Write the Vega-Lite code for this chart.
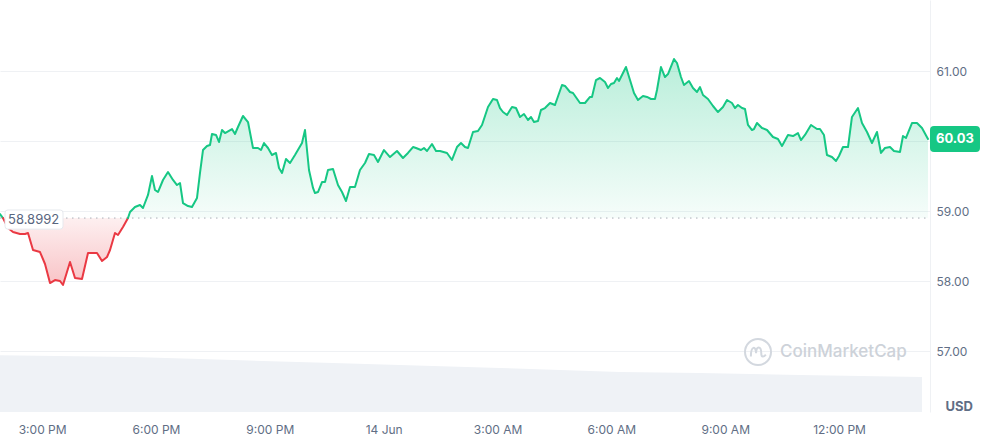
{
  "$schema": "https://vega.github.io/schema/vega-lite/v6.json",
  "width": 930,
  "height": 412,
  "autosize": {"type": "none"},
  "padding": {"left": 0, "top": 0, "right": 55, "bottom": 30},
  "background": "white",
  "config": {"view": {"stroke": null}, "font": "Inter"},
  "datasets": {
    "price": [
      {"h": 13.89, "p": 58.957, "seg": "a", "side": "up"},
      {"h": 13.969, "p": 58.8992, "seg": "a", "side": "up"},
      {"h": 13.969, "p": 58.8992, "seg": "b", "side": "down"},
      {"h": 14.101, "p": 58.757, "seg": "b", "side": "down"},
      {"h": 14.233, "p": 58.7, "seg": "b", "side": "down"},
      {"h": 14.417, "p": 58.671, "seg": "b", "side": "down"},
      {"h": 14.549, "p": 58.671, "seg": "b", "side": "down"},
      {"h": 14.628, "p": 58.686, "seg": "b", "side": "down"},
      {"h": 14.76, "p": 58.443, "seg": "b", "side": "down"},
      {"h": 14.944, "p": 58.414, "seg": "b", "side": "down"},
      {"h": 15.076, "p": 58.243, "seg": "b", "side": "down"},
      {"h": 15.208, "p": 57.971, "seg": "b", "side": "down"},
      {"h": 15.339, "p": 58.014, "seg": "b", "side": "down"},
      {"h": 15.471, "p": 58.0, "seg": "b", "side": "down"},
      {"h": 15.55, "p": 57.943, "seg": "b", "side": "down"},
      {"h": 15.735, "p": 58.271, "seg": "b", "side": "down"},
      {"h": 15.866, "p": 58.043, "seg": "b", "side": "down"},
      {"h": 16.051, "p": 58.029, "seg": "b", "side": "down"},
      {"h": 16.209, "p": 58.4, "seg": "b", "side": "down"},
      {"h": 16.446, "p": 58.4, "seg": "b", "side": "down"},
      {"h": 16.578, "p": 58.286, "seg": "b", "side": "down"},
      {"h": 16.71, "p": 58.343, "seg": "b", "side": "down"},
      {"h": 16.789, "p": 58.443, "seg": "b", "side": "down"},
      {"h": 16.92, "p": 58.686, "seg": "b", "side": "down"},
      {"h": 16.999, "p": 58.657, "seg": "b", "side": "down"},
      {"h": 17.131, "p": 58.771, "seg": "b", "side": "down"},
      {"h": 17.263, "p": 58.8992, "seg": "b", "side": "down"},
      {"h": 17.263, "p": 58.8992, "seg": "c", "side": "up"},
      {"h": 17.316, "p": 58.986, "seg": "c", "side": "up"},
      {"h": 17.447, "p": 59.057, "seg": "c", "side": "up"},
      {"h": 17.579, "p": 59.086, "seg": "c", "side": "up"},
      {"h": 17.658, "p": 59.043, "seg": "c", "side": "up"},
      {"h": 17.79, "p": 59.229, "seg": "c", "side": "up"},
      {"h": 17.895, "p": 59.5, "seg": "c", "side": "up"},
      {"h": 17.974, "p": 59.3, "seg": "c", "side": "up"},
      {"h": 18.053, "p": 59.271, "seg": "c", "side": "up"},
      {"h": 18.185, "p": 59.443, "seg": "c", "side": "up"},
      {"h": 18.317, "p": 59.557, "seg": "c", "side": "up"},
      {"h": 18.449, "p": 59.443, "seg": "c", "side": "up"},
      {"h": 18.554, "p": 59.371, "seg": "c", "side": "up"},
      {"h": 18.633, "p": 59.4, "seg": "c", "side": "up"},
      {"h": 18.712, "p": 59.114, "seg": "c", "side": "up"},
      {"h": 18.844, "p": 59.071, "seg": "c", "side": "up"},
      {"h": 18.949, "p": 59.057, "seg": "c", "side": "up"},
      {"h": 19.081, "p": 59.186, "seg": "c", "side": "up"},
      {"h": 19.16, "p": 59.543, "seg": "c", "side": "up"},
      {"h": 19.239, "p": 59.871, "seg": "c", "side": "up"},
      {"h": 19.345, "p": 59.929, "seg": "c", "side": "up"},
      {"h": 19.424, "p": 59.943, "seg": "c", "side": "up"},
      {"h": 19.476, "p": 60.1, "seg": "c", "side": "up"},
      {"h": 19.582, "p": 60.086, "seg": "c", "side": "up"},
      {"h": 19.661, "p": 59.986, "seg": "c", "side": "up"},
      {"h": 19.74, "p": 60.157, "seg": "c", "side": "up"},
      {"h": 19.819, "p": 60.114, "seg": "c", "side": "up"},
      {"h": 20.003, "p": 60.171, "seg": "c", "side": "up"},
      {"h": 20.082, "p": 60.1, "seg": "c", "side": "up"},
      {"h": 20.161, "p": 60.2, "seg": "c", "side": "up"},
      {"h": 20.293, "p": 60.357, "seg": "c", "side": "up"},
      {"h": 20.425, "p": 60.271, "seg": "c", "side": "up"},
      {"h": 20.557, "p": 59.9, "seg": "c", "side": "up"},
      {"h": 20.688, "p": 59.9, "seg": "c", "side": "up"},
      {"h": 20.767, "p": 59.871, "seg": "c", "side": "up"},
      {"h": 20.846, "p": 59.971, "seg": "c", "side": "up"},
      {"h": 20.952, "p": 59.9, "seg": "c", "side": "up"},
      {"h": 21.057, "p": 59.8, "seg": "c", "side": "up"},
      {"h": 21.163, "p": 59.829, "seg": "c", "side": "up"},
      {"h": 21.242, "p": 59.614, "seg": "c", "side": "up"},
      {"h": 21.321, "p": 59.543, "seg": "c", "side": "up"},
      {"h": 21.426, "p": 59.743, "seg": "c", "side": "up"},
      {"h": 21.532, "p": 59.686, "seg": "c", "side": "up"},
      {"h": 21.663, "p": 59.8, "seg": "c", "side": "up"},
      {"h": 21.848, "p": 59.971, "seg": "c", "side": "up"},
      {"h": 21.927, "p": 60.157, "seg": "c", "side": "up"},
      {"h": 22.032, "p": 59.586, "seg": "c", "side": "up"},
      {"h": 22.138, "p": 59.329, "seg": "c", "side": "up"},
      {"h": 22.19, "p": 59.257, "seg": "c", "side": "up"},
      {"h": 22.269, "p": 59.271, "seg": "c", "side": "up"},
      {"h": 22.375, "p": 59.414, "seg": "c", "side": "up"},
      {"h": 22.454, "p": 59.414, "seg": "c", "side": "up"},
      {"h": 22.533, "p": 59.586, "seg": "c", "side": "up"},
      {"h": 22.665, "p": 59.6, "seg": "c", "side": "up"},
      {"h": 22.796, "p": 59.371, "seg": "c", "side": "up"},
      {"h": 22.902, "p": 59.271, "seg": "c", "side": "up"},
      {"h": 23.007, "p": 59.143, "seg": "c", "side": "up"},
      {"h": 23.113, "p": 59.343, "seg": "c", "side": "up"},
      {"h": 23.244, "p": 59.343, "seg": "c", "side": "up"},
      {"h": 23.376, "p": 59.586, "seg": "c", "side": "up"},
      {"h": 23.508, "p": 59.686, "seg": "c", "side": "up"},
      {"h": 23.613, "p": 59.814, "seg": "c", "side": "up"},
      {"h": 23.745, "p": 59.8, "seg": "c", "side": "up"},
      {"h": 23.85, "p": 59.7, "seg": "c", "side": "up"},
      {"h": 24.008, "p": 59.871, "seg": "c", "side": "up"},
      {"h": 24.167, "p": 59.771, "seg": "c", "side": "up"},
      {"h": 24.351, "p": 59.857, "seg": "c", "side": "up"},
      {"h": 24.509, "p": 59.757, "seg": "c", "side": "up"},
      {"h": 24.641, "p": 59.829, "seg": "c", "side": "up"},
      {"h": 24.773, "p": 59.914, "seg": "c", "side": "up"},
      {"h": 24.852, "p": 59.9, "seg": "c", "side": "up"},
      {"h": 24.983, "p": 59.871, "seg": "c", "side": "up"},
      {"h": 25.062, "p": 59.9, "seg": "c", "side": "up"},
      {"h": 25.142, "p": 59.857, "seg": "c", "side": "up"},
      {"h": 25.273, "p": 59.957, "seg": "c", "side": "up"},
      {"h": 25.379, "p": 59.857, "seg": "c", "side": "up"},
      {"h": 25.484, "p": 59.857, "seg": "c", "side": "up"},
      {"h": 25.669, "p": 59.829, "seg": "c", "side": "up"},
      {"h": 25.8, "p": 59.729, "seg": "c", "side": "up"},
      {"h": 25.932, "p": 59.914, "seg": "c", "side": "up"},
      {"h": 26.037, "p": 59.971, "seg": "c", "side": "up"},
      {"h": 26.143, "p": 59.914, "seg": "c", "side": "up"},
      {"h": 26.222, "p": 59.9, "seg": "c", "side": "up"},
      {"h": 26.354, "p": 60.129, "seg": "c", "side": "up"},
      {"h": 26.485, "p": 60.143, "seg": "c", "side": "up"},
      {"h": 26.591, "p": 60.229, "seg": "c", "side": "up"},
      {"h": 26.749, "p": 60.486, "seg": "c", "side": "up"},
      {"h": 26.881, "p": 60.6, "seg": "c", "side": "up"},
      {"h": 26.986, "p": 60.586, "seg": "c", "side": "up"},
      {"h": 27.065, "p": 60.471, "seg": "c", "side": "up"},
      {"h": 27.144, "p": 60.414, "seg": "c", "side": "up"},
      {"h": 27.25, "p": 60.371, "seg": "c", "side": "up"},
      {"h": 27.381, "p": 60.486, "seg": "c", "side": "up"},
      {"h": 27.487, "p": 60.471, "seg": "c", "side": "up"},
      {"h": 27.592, "p": 60.343, "seg": "c", "side": "up"},
      {"h": 27.697, "p": 60.386, "seg": "c", "side": "up"},
      {"h": 27.803, "p": 60.3, "seg": "c", "side": "up"},
      {"h": 27.882, "p": 60.343, "seg": "c", "side": "up"},
      {"h": 27.961, "p": 60.271, "seg": "c", "side": "up"},
      {"h": 28.066, "p": 60.286, "seg": "c", "side": "up"},
      {"h": 28.145, "p": 60.443, "seg": "c", "side": "up"},
      {"h": 28.251, "p": 60.471, "seg": "c", "side": "up"},
      {"h": 28.383, "p": 60.543, "seg": "c", "side": "up"},
      {"h": 28.514, "p": 60.514, "seg": "c", "side": "up"},
      {"h": 28.699, "p": 60.8, "seg": "c", "side": "up"},
      {"h": 28.778, "p": 60.786, "seg": "c", "side": "up"},
      {"h": 28.91, "p": 60.7, "seg": "c", "side": "up"},
      {"h": 28.989, "p": 60.686, "seg": "c", "side": "up"},
      {"h": 29.173, "p": 60.543, "seg": "c", "side": "up"},
      {"h": 29.305, "p": 60.543, "seg": "c", "side": "up"},
      {"h": 29.437, "p": 60.629, "seg": "c", "side": "up"},
      {"h": 29.489, "p": 60.629, "seg": "c", "side": "up"},
      {"h": 29.595, "p": 60.871, "seg": "c", "side": "up"},
      {"h": 29.7, "p": 60.9, "seg": "c", "side": "up"},
      {"h": 29.832, "p": 60.843, "seg": "c", "side": "up"},
      {"h": 29.911, "p": 60.757, "seg": "c", "side": "up"},
      {"h": 29.99, "p": 60.814, "seg": "c", "side": "up"},
      {"h": 30.069, "p": 60.829, "seg": "c", "side": "up"},
      {"h": 30.148, "p": 60.9, "seg": "c", "side": "up"},
      {"h": 30.201, "p": 60.857, "seg": "c", "side": "up"},
      {"h": 30.385, "p": 61.057, "seg": "c", "side": "up"},
      {"h": 30.491, "p": 60.871, "seg": "c", "side": "up"},
      {"h": 30.596, "p": 60.686, "seg": "c", "side": "up"},
      {"h": 30.701, "p": 60.586, "seg": "c", "side": "up"},
      {"h": 30.833, "p": 60.643, "seg": "c", "side": "up"},
      {"h": 30.939, "p": 60.629, "seg": "c", "side": "up"},
      {"h": 31.044, "p": 60.6, "seg": "c", "side": "up"},
      {"h": 31.149, "p": 60.6, "seg": "c", "side": "up"},
      {"h": 31.202, "p": 60.729, "seg": "c", "side": "up"},
      {"h": 31.307, "p": 61.057, "seg": "c", "side": "up"},
      {"h": 31.413, "p": 60.914, "seg": "c", "side": "up"},
      {"h": 31.492, "p": 60.957, "seg": "c", "side": "up"},
      {"h": 31.65, "p": 61.171, "seg": "c", "side": "up"},
      {"h": 31.729, "p": 61.114, "seg": "c", "side": "up"},
      {"h": 31.834, "p": 60.914, "seg": "c", "side": "up"},
      {"h": 31.913, "p": 60.8, "seg": "c", "side": "up"},
      {"h": 32.045, "p": 60.857, "seg": "c", "side": "up"},
      {"h": 32.151, "p": 60.757, "seg": "c", "side": "up"},
      {"h": 32.256, "p": 60.7, "seg": "c", "side": "up"},
      {"h": 32.335, "p": 60.771, "seg": "c", "side": "up"},
      {"h": 32.414, "p": 60.657, "seg": "c", "side": "up"},
      {"h": 32.546, "p": 60.6, "seg": "c", "side": "up"},
      {"h": 32.678, "p": 60.5, "seg": "c", "side": "up"},
      {"h": 32.809, "p": 60.414, "seg": "c", "side": "up"},
      {"h": 32.941, "p": 60.486, "seg": "c", "side": "up"},
      {"h": 33.047, "p": 60.586, "seg": "c", "side": "up"},
      {"h": 33.178, "p": 60.543, "seg": "c", "side": "up"},
      {"h": 33.257, "p": 60.471, "seg": "c", "side": "up"},
      {"h": 33.336, "p": 60.514, "seg": "c", "side": "up"},
      {"h": 33.442, "p": 60.471, "seg": "c", "side": "up"},
      {"h": 33.521, "p": 60.457, "seg": "c", "side": "up"},
      {"h": 33.6, "p": 60.229, "seg": "c", "side": "up"},
      {"h": 33.705, "p": 60.157, "seg": "c", "side": "up"},
      {"h": 33.758, "p": 60.171, "seg": "c", "side": "up"},
      {"h": 33.837, "p": 60.257, "seg": "c", "side": "up"},
      {"h": 33.969, "p": 60.186, "seg": "c", "side": "up"},
      {"h": 34.101, "p": 60.157, "seg": "c", "side": "up"},
      {"h": 34.259, "p": 60.057, "seg": "c", "side": "up"},
      {"h": 34.39, "p": 60.029, "seg": "c", "side": "up"},
      {"h": 34.496, "p": 59.929, "seg": "c", "side": "up"},
      {"h": 34.654, "p": 60.086, "seg": "c", "side": "up"},
      {"h": 34.786, "p": 60.071, "seg": "c", "side": "up"},
      {"h": 34.917, "p": 60.114, "seg": "c", "side": "up"},
      {"h": 34.996, "p": 60.014, "seg": "c", "side": "up"},
      {"h": 35.102, "p": 60.086, "seg": "c", "side": "up"},
      {"h": 35.26, "p": 60.229, "seg": "c", "side": "up"},
      {"h": 35.418, "p": 60.171, "seg": "c", "side": "up"},
      {"h": 35.497, "p": 60.171, "seg": "c", "side": "up"},
      {"h": 35.602, "p": 60.086, "seg": "c", "side": "up"},
      {"h": 35.681, "p": 59.8, "seg": "c", "side": "up"},
      {"h": 35.813, "p": 59.771, "seg": "c", "side": "up"},
      {"h": 35.919, "p": 59.714, "seg": "c", "side": "up"},
      {"h": 35.998, "p": 59.786, "seg": "c", "side": "up"},
      {"h": 36.103, "p": 59.914, "seg": "c", "side": "up"},
      {"h": 36.235, "p": 59.914, "seg": "c", "side": "up"},
      {"h": 36.34, "p": 60.343, "seg": "c", "side": "up"},
      {"h": 36.498, "p": 60.471, "seg": "c", "side": "up"},
      {"h": 36.604, "p": 60.257, "seg": "c", "side": "up"},
      {"h": 36.736, "p": 60.129, "seg": "c", "side": "up"},
      {"h": 36.867, "p": 59.971, "seg": "c", "side": "up"},
      {"h": 36.999, "p": 60.129, "seg": "c", "side": "up"},
      {"h": 37.104, "p": 59.829, "seg": "c", "side": "up"},
      {"h": 37.21, "p": 59.9, "seg": "c", "side": "up"},
      {"h": 37.342, "p": 59.914, "seg": "c", "side": "up"},
      {"h": 37.447, "p": 59.857, "seg": "c", "side": "up"},
      {"h": 37.605, "p": 59.843, "seg": "c", "side": "up"},
      {"h": 37.684, "p": 60.071, "seg": "c", "side": "up"},
      {"h": 37.763, "p": 60.043, "seg": "c", "side": "up"},
      {"h": 37.921, "p": 60.257, "seg": "c", "side": "up"},
      {"h": 38.053, "p": 60.257, "seg": "c", "side": "up"},
      {"h": 38.185, "p": 60.186, "seg": "c", "side": "up"},
      {"h": 38.343, "p": 60.03, "seg": "c", "side": "up"}
    ],
    "volume": [
      {"h": 13.89, "v": 13.8},
      {"h": 17.395, "v": 13.35},
      {"h": 20.03, "v": 12.6},
      {"h": 22.665, "v": 11.9},
      {"h": 27.065, "v": 10.7},
      {"h": 30.227, "v": 9.7},
      {"h": 32.335, "v": 9.45},
      {"h": 34.97, "v": 9.0},
      {"h": 38.185, "v": 8.5}
    ]
  },
  "layer": [
    {
      "data": {"name": "volume"},
      "mark": {"type": "area", "color": "#eff2f6", "opacity": 1},
      "encoding": {
        "x": {"field": "h", "type": "quantitative", "scale": {"domain": [13.89, 38.396], "nice": false, "zero": false},
          "axis": {"values": [15, 18, 21, 24, 27, 30, 33, 36], "labelExpr": "datum.value == 24 ? '14 Jun' : ((datum.value % 12 == 0 ? 12 : datum.value % 12) + ':00 ' + ((datum.value % 24) < 12 ? 'AM' : 'PM'))", "title": null, "grid": false, "domain": false, "ticks": false, "labelPadding": 12, "labelFontSize": 12, "labelColor": "#616e85", "labelFont": "Inter"}},
        "y": {"field": "v", "type": "quantitative", "scale": {"domain": [0, 100], "nice": false}, "axis": null}
      }
    },
    {
      "data": {"name": "price"},
      "layer": [
        {
          "transform": [{"filter": "datum.side == 'up'"}],
          "mark": {"type": "area", "color": {"gradient": "linear", "x1": 0, "y1": 0, "x2": 0, "y2": 1, "stops": [{"offset": 0, "color": "rgba(22,199,132,0.30)"}, {"offset": 1, "color": "rgba(22,199,132,0.04)"}]}},
          "encoding": {
            "x": {"field": "h", "type": "quantitative"},
            "y": {"field": "p", "type": "quantitative", "scale": {"domain": [56.1286, 62.0143], "nice": false, "zero": false},
              "axis": {"orient": "right", "values": [57, 58, 59, 60, 61], "labelExpr": "datum.value == 60 ? '' : format(datum.value, '.2f')", "grid": true, "gridColor": "#eff1f4", "gridWidth": 1, "ticks": false, "domain": true, "domainColor": "#eff1f4", "labelPadding": 6, "labelFontSize": 12, "labelColor": "#616e85", "labelFont": "Inter", "title": "USD", "titleAngle": 0, "titleX": 15, "titleY": 406, "titleAlign": "left", "titleBaseline": "middle", "titleFontSize": 13, "titleFontWeight": "bold", "titleColor": "#616e85", "titleFont": "Inter"}},
            "y2": {"datum": 58.8992},
            "detail": {"field": "seg"}
          }
        },
        {
          "transform": [{"filter": "datum.side == 'down'"}],
          "mark": {"type": "area", "color": {"gradient": "linear", "x1": 0, "y1": 0, "x2": 0, "y2": 1, "stops": [{"offset": 0, "color": "rgba(234,57,67,0.08)"}, {"offset": 1, "color": "rgba(234,57,67,0.30)"}]}},
          "encoding": {
            "x": {"field": "h", "type": "quantitative"},
            "y": {"field": "p", "type": "quantitative"},
            "y2": {"datum": 58.8992},
            "detail": {"field": "seg"}
          }
        },
        {
          "data": {"values": [{}]},
          "mark": {"type": "rule", "color": "#a9aeb6", "strokeWidth": 1, "strokeDash": [1.5, 4.5]},
          "encoding": {
            "x": {"datum": 13.89},
            "x2": {"datum": 38.343},
            "y": {"datum": 58.8992, "type": "quantitative"}
          }
        },
        {
          "mark": {"type": "line", "strokeWidth": 2, "strokeJoin": "round", "strokeCap": "round"},
          "encoding": {
            "x": {"field": "h", "type": "quantitative"},
            "y": {"field": "p", "type": "quantitative"},
            "color": {"field": "side", "type": "nominal", "scale": {"domain": ["up", "down"], "range": ["#16c784", "#ea3943"]}, "legend": null},
            "detail": {"field": "seg"}
          }
        },
        {
          "data": {"values": [{}]},
          "mark": {"type": "point", "filled": true, "fill": "white", "stroke": "#e6e9ee", "strokeWidth": 1, "opacity": 1, "size": 3364, "xOffset": 34, "yOffset": 1.5,
            "shape": "M-0.9,-0.33H0.9Q1,-0.33 1,-0.23V0.23Q1,0.33 0.9,0.33H-0.9Q-1,0.33 -1,0.23V-0.23Q-1,-0.33 -0.9,-0.33Z"},
          "encoding": {
            "x": {"datum": 13.89},
            "y": {"datum": 58.8992, "type": "quantitative"}
          }
        },
        {
          "data": {"values": [{}]},
          "mark": {"type": "text", "text": "58.8992", "align": "left", "baseline": "middle", "dx": 8, "dy": 2, "fontSize": 13, "font": "Inter", "color": "#58667e"},
          "encoding": {
            "x": {"datum": 13.89},
            "y": {"datum": 58.8992, "type": "quantitative"}
          }
        },
        {
          "data": {"values": [{}]},
          "mark": {"type": "point", "filled": true, "fill": "#16c784", "strokeWidth": 0, "opacity": 1, "size": 2500, "xOffset": 27,
            "shape": "M-0.84,-0.52H0.84Q1,-0.52 1,-0.36V0.36Q1,0.52 0.84,0.52H-0.84Q-1,0.52 -1,0.36V-0.36Q-1,-0.52 -0.84,-0.52Z"},
          "encoding": {
            "x": {"datum": 38.343},
            "y": {"datum": 60.03, "type": "quantitative"}
          }
        },
        {
          "data": {"values": [{}]},
          "mark": {"type": "text", "text": "60.03", "align": "center", "baseline": "middle", "dx": 27, "fontSize": 13, "fontWeight": "bold", "font": "Inter", "color": "white"},
          "encoding": {
            "x": {"datum": 38.343},
            "y": {"datum": 60.03, "type": "quantitative"}
          }
        },
        {
          "data": {"values": [{}]},
          "mark": {"type": "point", "shape": "circle", "filled": false, "stroke": "#d3d8df", "strokeWidth": 2, "size": 676, "opacity": 1},
          "encoding": {
            "x": {"datum": 33.864},
            "y": {"datum": 56.986, "type": "quantitative"}
          }
        },
        {
          "data": {"values": [{}]},
          "mark": {"type": "point", "shape": "M-0.55,0.35C-0.55,-0.5 -0.15,-0.5 -0.15,0.1C-0.15,-0.5 0.25,-0.5 0.25,0.1C0.25,0.45 0.45,0.4 0.6,0.2", "filled": false, "stroke": "#d3d8df", "strokeWidth": 2, "size": 676, "opacity": 1},
          "encoding": {
            "x": {"datum": 33.864},
            "y": {"datum": 56.986, "type": "quantitative"}
          }
        },
        {
          "data": {"values": [{}]},
          "mark": {"type": "text", "text": "CoinMarketCap", "align": "left", "baseline": "middle", "fontSize": 17, "fontWeight": 500, "font": "Inter", "color": "#cdd2d9"},
          "encoding": {
            "x": {"datum": 34.443},
            "y": {"datum": 56.986, "type": "quantitative"}
          }
        }
      ]
    }
  ],
  "resolve": {"scale": {"y": "independent"}}
}
